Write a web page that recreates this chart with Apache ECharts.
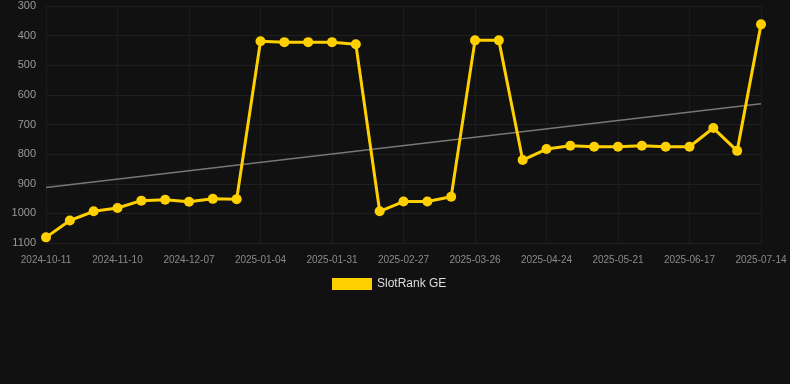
<!DOCTYPE html>
<html>
<head>
<meta charset="utf-8">
<script src="https://cdn.jsdelivr.net/npm/echarts@6/dist/echarts.min.js"></script>
<style>
  html, body { margin: 0; padding: 0; background: #111111; }
  #main { width: 790px; height: 384px; }
</style>
</head>
<body>
<div id="main"></div>
<script>
const dates = [
  '2024-10-11', '2024-10-21', '2024-10-31', '2024-11-10', '2024-11-19', '2024-11-28',
  '2024-12-07', '2024-12-16', '2024-12-25', '2025-01-04', '2025-01-13', '2025-01-22',
  '2025-01-31', '2025-02-09', '2025-02-18', '2025-02-27', '2025-03-08', '2025-03-17',
  '2025-03-26', '2025-04-05', '2025-04-14', '2025-04-24', '2025-05-03', '2025-05-12',
  '2025-05-21', '2025-05-30', '2025-06-08', '2025-06-17', '2025-06-26', '2025-07-05',
  '2025-07-14'
]

const rank = [
  1081, 1024, 993, 982, 957, 954, 961, 951, 952, 419, 422, 422,
  422, 429, 993, 960, 960, 944, 416, 416, 820, 783, 772, 775,
  775, 772, 775, 775, 712, 789, 362
]

// trend line: only the two ends, the rest is joined
const trend = [913].concat(new Array(29).fill(null), [630])

const yTicks = { min: 300, max: 1100, step: 100 }

const chart = echarts.init(document.getElementById('main'))

const option = {
  backgroundColor: '#111111',
  animation: false,
  grid: {
    left: 46,
    right: 29,
    top: 6,
    bottom: 141
  },
  legend: {
    left: 327,
    top: 273,
    itemWidth: 40,
    itemHeight: 12,
    itemGap: 10,
    icon: 'rect',
    data: ['SlotRank GE'],
    textStyle: {
      color: '#dddddd',
      fontSize: 12,
      fontFamily: 'Liberation Sans'
    }
  },
  xAxis: {
    type: 'category',
    boundaryGap: false,
    data: dates,
    axisLine: { show: false },
    axisTick: { show: false },
    axisLabel: {
      interval: 2,
      color: '#8a8a8a',
      fontSize: 10,
      fontFamily: 'Liberation Sans',
      margin: 12
    },
    splitLine: {
      show: true,
      interval: 2,
      lineStyle: { color: '#1c1c1c', width: 1 }
    }
  },
  yAxis: {
    type: 'value',
    inverse: true,
    min: yTicks.min,
    max: yTicks.max,
    interval: yTicks.step,
    axisLine: { show: false },
    axisTick: { show: false },
    axisLabel: {
      color: '#9a9a9a',
      fontSize: 11,
      fontFamily: 'Liberation Sans',
      margin: 10,
      formatter: function (v) { return String(v) }
    },
    splitLine: {
      lineStyle: { color: '#1f1f1f', width: 1 }
    }
  },
  series: [
    {
      name: 'trend',
      type: 'line',
      data: trend,
      connectNulls: true,
      showSymbol: false,
      symbol: 'none',
      silent: true,
      lineStyle: { color: '#777777', width: 1.5 },
      z: 1
    },
    {
      name: 'SlotRank GE',
      type: 'line',
      data: rank,
      symbol: 'circle',
      symbolSize: 10,
      itemStyle: { color: '#FFD000' },
      lineStyle: { color: '#FFD000', width: 3 },
      z: 2
    }
  ]
}

chart.setOption(option)
</script>
</body>
</html>
